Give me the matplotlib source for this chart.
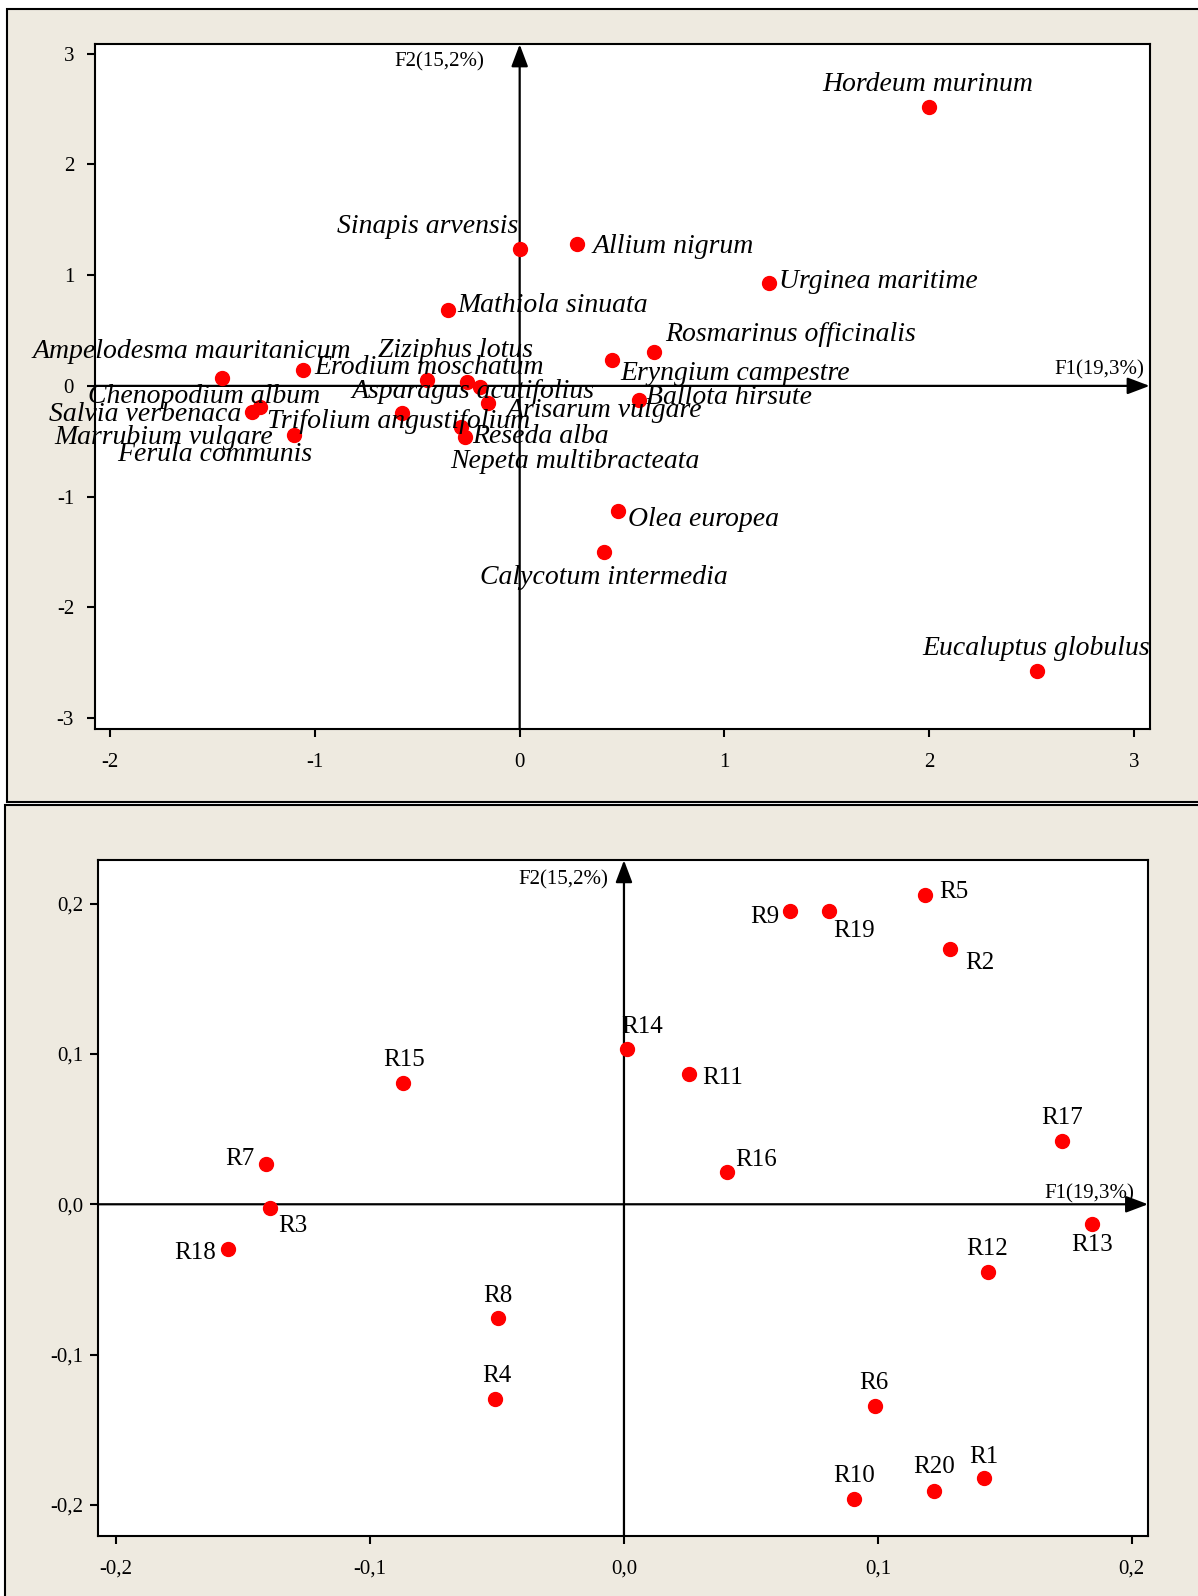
import matplotlib.pyplot as plt
from matplotlib.patches import Rectangle

# species map (F1 x F2)
species = ['Hordeum murinum', 'Sinapis arvensis', 'Allium nigrum', 'Urginea maritime',
           'Mathiola sinuata', 'Rosmarinus officinalis', 'Eryngium campestre',
           'Ampelodesma mauritanicum', 'Erodium moschatum', 'Ziziphus lotus',
           'Asparagus acutifolius', 'Nepeta multibracteata', 'Arisarum vulgare',
           'Trifolium angustifolium', 'Ferula communis', 'Reseda alba',
           'Marrubium vulgare', 'Salvia verbenaca', 'Chenopodium album',
           'Ballota hirsute', 'Olea europea', 'Calycotum intermedia', 'Eucaluptus globulus']
f1_species = [2.00, 0.00, 0.28, 1.216, -0.348, 0.657, 0.453, -1.456, -1.059, -0.451,
              -0.258, -0.193, -0.155, -0.573, -0.286, -0.267, -1.10, -1.306, -1.269,
              0.583, 0.482, 0.414, 2.527]
f2_species = [2.52, 1.24, 1.28, 0.925, 0.685, 0.308, 0.233, 0.068, 0.143, 0.052,
              0.037, -0.008, -0.158, -0.248, -0.369, -0.46, -0.445, -0.234, -0.189,
              -0.128, -1.128, -1.50, -2.574]
# label placement relative to the dot, in pixels
species_offsets = [(-1, 22), (-92, 22), (96, -2), (110, 2), (104, 5), (136, 17), (123, -13),
                   (-30, 27), (126, 3), (28, 30), (6, -10), (95, -75), (116, -7), (-4, -8),
                   (-246, -28), (75, 0), (-131, -2), (-107, -3), (-56, 10), (90, 3),
                   (85, -9), (-1, -26), (-1, 22)]

# releve map (F1 x F2)
releves = ['R%d' % i for i in range(1, 21)]
f1_releves = [0.1417, 0.1284, -0.1393, -0.0506, 0.1185, 0.0989, -0.1409, -0.0498, 0.0652, 0.0907,
              0.0258, 0.1433, 0.1843, 0.0011, -0.0869, 0.0406, 0.1727, -0.156, 0.0808, 0.122]
f2_releves = [-0.1824, 0.170, -0.0027, -0.1298, 0.2061, -0.1341, 0.0268, -0.0759, 0.1951, -0.1964,
              0.0868, -0.0453, -0.0131, 0.1034, 0.081, 0.0217, 0.0424, -0.030, 0.1951, -0.1909]
releve_offsets = [(0, 21), (30, -14), (23, -18), (1, 23), (29, 3), (-1, 23), (-26, 5), (0, 22),
                  (-25, -6), (0, 23), (33, -4), (-1, 23), (0, -21), (15, 22), (1, 23), (29, 12),
                  (0, 23), (-33, -4), (25, -20), (0, 24)]

top_xticks = [-2, -1, 0, 1, 2, 3]
top_yticks = [-3, -2, -1, 0, 1, 2, 3]
bottom_ticks = [-0.2, -0.1, 0.0, 0.1, 0.2]
bottom_ticklabels = ['-0,2', '-0,1', '0,0', '0,1', '0,2']

BEIGE = '#eeeae0'
plt.rcParams['font.family'] = ['Liberation Serif', 'DejaVu Serif']

fig = plt.figure(figsize=(11.98, 15.96), dpi=100)
fig.patches.append(Rectangle((0.0058, 0.4977), 1.1, 0.4967, transform=fig.transFigure,
                             facecolor=BEIGE, edgecolor='black', lw=1.5, zorder=-2))
fig.patches.append(Rectangle((0.0042, -0.1), 1.1, 0.5956, transform=fig.transFigure,
                             facecolor=BEIGE, edgecolor='black', lw=1.5, zorder=-2))


def draw_map(ax, xs, ys, names, offsets, italic, label_size, ypad, f2_off, f1_off):
    ax.plot(xs, ys, 'o', color='red', ms=10, zorder=5)
    for name, x, y, off in zip(names, xs, ys, offsets):
        ax.annotate(name, (x, y), xytext=off, textcoords='offset pixels', ha='center',
                    va='center', fontsize=label_size, style='italic' if italic else 'normal',
                    zorder=6)

    arrow = dict(arrowstyle='-|>,head_length=0.45,head_width=0.17', color='black', lw=1.6,
                 mutation_scale=30, shrinkA=0, shrinkB=0)
    ax.annotate('', xy=(1, 0), xycoords=('axes fraction', 'data'),
                xytext=(0, 0), textcoords=('axes fraction', 'data'), arrowprops=arrow, zorder=3)
    ax.annotate('', xy=(0, 1), xycoords=('data', 'axes fraction'),
                xytext=(0, 0), textcoords=('data', 'axes fraction'), arrowprops=arrow, zorder=3)
    ax.annotate('F2(15,2%)', xy=(0, 1), xycoords=('data', 'axes fraction'), xytext=f2_off,
                textcoords='offset pixels', ha='right', va='center', fontsize=15)
    ax.annotate('F1(19,3%)', xy=(1, 0), xycoords=('axes fraction', 'data'), xytext=f1_off,
                textcoords='offset pixels', ha='right', va='center', fontsize=15)

    for s in ax.spines.values():
        s.set_linewidth(1.5)
    ax.tick_params(direction='out', length=6, width=1.5, labelsize=15, pad=ypad)
    ax.tick_params(axis='x', pad=11)


ax1 = fig.add_axes([0.0792, 0.5432, 0.8804, 0.4290])
ax1.set_xlim(-2.075, 3.077)
ax1.set_ylim(-3.10, 3.085)
ax1.set_xticks(top_xticks)
ax1.set_xticklabels([str(t) for t in top_xticks])
ax1.set_yticks(top_yticks)
ax1.set_yticklabels([str(t) for t in top_yticks])
draw_map(ax1, f1_species, f2_species, species, species_offsets, True, 20, 9, (-35, -17), (-5, 16))

ax2 = fig.add_axes([0.0821, 0.0376, 0.8762, 0.4234])
ax2.set_xlim(-0.207, 0.2064)
ax2.set_ylim(-0.2208, 0.229)
ax2.set_xticks(bottom_ticks)
ax2.set_xticklabels(bottom_ticklabels)
ax2.set_yticks(bottom_ticks)
ax2.set_yticklabels(bottom_ticklabels)
draw_map(ax2, f1_releves, f2_releves, releves, releve_offsets, False, 18, 5, (-16, -20), (-14, 10))

fig.savefig('out.png', dpi=100)
